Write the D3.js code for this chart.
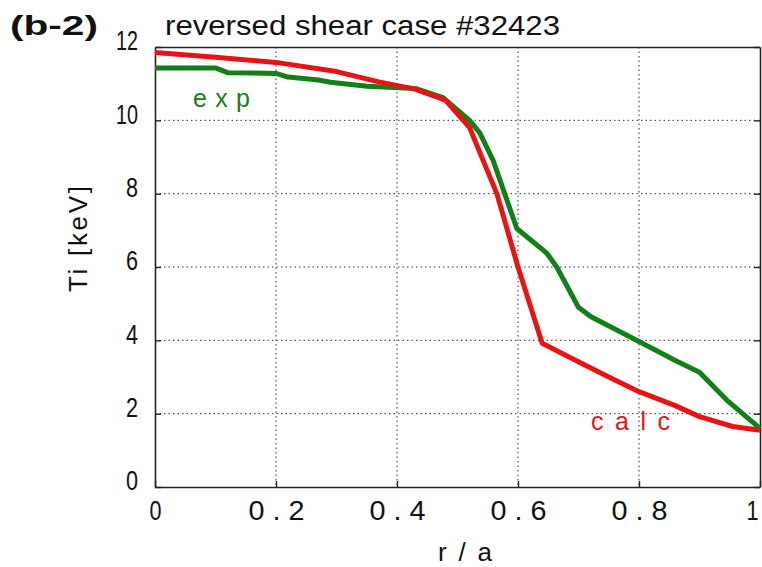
<!DOCTYPE html>
<html>
<head>
<meta charset="utf-8">
<script src="https://cdn.jsdelivr.net/npm/d3@7"></script>
<style>
  html, body { margin: 0; padding: 0; background: #fff; }
  svg { display: block; }
</style>
</head>
<body>
<svg id="chart" width="762" height="567"></svg>
<script>
// Ion temperature profiles, reversed shear discharge #32423
const calcR  = [0, 0.1, 0.2, 0.3, 0.37, 0.43, 0.48, 0.52, 0.565, 0.6, 0.64, 0.69, 0.75, 0.8, 0.86, 0.9, 0.955, 1.0];
const calcTi = [11.85, 11.72, 11.58, 11.33, 11.05, 10.85, 10.55, 9.8, 8.0, 6.0, 3.92, 3.5, 3.0, 2.6, 2.22, 1.92, 1.65, 1.55];

const expR  = [0, 0.1, 0.12, 0.2, 0.22, 0.27, 0.29, 0.35, 0.43, 0.476, 0.52, 0.537, 0.559, 0.598, 0.648, 0.664, 0.70, 0.72, 0.8, 0.86, 0.9, 0.945, 1.0];
const expTi = [11.43, 11.43, 11.3, 11.28, 11.18, 11.1, 11.04, 10.93, 10.87, 10.62, 10.0, 9.65, 8.9, 7.05, 6.37, 6.0, 4.9, 4.65, 3.97, 3.45, 3.13, 2.37, 1.6];

const xTicks = [0, 0.2, 0.4, 0.6, 0.8, 1];
const yTicks = [0, 2, 4, 6, 8, 10, 12];

const svg = d3.select("#chart");
const plotL = 155, plotR = 760, plotT = 47, plotB = 487;

const x = d3.scaleLinear().domain([0, 1]).range([plotL, plotR]);
const y = d3.scaleLinear().domain([0, 12]).range([plotB, plotT]);

const sans = "'Liberation Sans', Arial, sans-serif";

// dotted grid
const grid = svg.append("g").attr("stroke", "#333").attr("stroke-width", 1)
  .attr("stroke-dasharray", "1.5,3");
grid.selectAll(".gx").data(xTicks.slice(1, -1)).join("line")
  .attr("x1", d => x(d)).attr("x2", d => x(d))
  .attr("y1", plotT).attr("y2", plotB);
grid.selectAll(".gy").data(yTicks.slice(1, -1)).join("line")
  .attr("x1", plotL).attr("x2", plotR)
  .attr("y1", d => y(d)).attr("y2", d => y(d));

// axes with inward ticks
const fmtX = d => d === 0 ? "0" : d === 1 ? "1" : String(d).split("").join(" ");
const xAxis = svg.append("g").attr("transform", `translate(0,${plotB})`)
  .call(d3.axisBottom(x).tickValues(xTicks).tickFormat(fmtX).tickSizeInner(-6).tickSizeOuter(0).tickPadding(13));
const yAxis = svg.append("g").attr("transform", `translate(${plotL},0)`)
  .call(d3.axisLeft(y).tickValues(yTicks).tickFormat(d => String(d)).tickSizeInner(-6).tickSizeOuter(0).tickPadding(17));
const yAxisR = svg.append("g").attr("transform", `translate(${plotR},0)`)
  .call(d3.axisRight(y).tickValues(yTicks).tickFormat("").tickSizeInner(-6).tickSizeOuter(0));
const xAxisT = svg.append("g").attr("transform", `translate(0,${plotT})`)
  .call(d3.axisTop(x).tickValues([]).tickSizeOuter(0));

[xAxis, yAxis, yAxisR, xAxisT].forEach(g => {
  g.select(".domain").attr("stroke", "#222").attr("stroke-width", 1.6);
  g.selectAll(".tick line").attr("stroke", "#222").attr("stroke-width", 1.4);
  g.selectAll("text").attr("font-family", sans).attr("font-size", 28).attr("fill", "#111");
});
// narrow, tall numerals
xAxis.selectAll("text").attr("dy", "0.71em")
  .attr("textLength", d => (d === 0 || d === 1) ? 12 : 56)
  .attr("lengthAdjust", "spacingAndGlyphs");
xAxis.selectAll(".tick").filter(d => d === 1).select("text")
  .attr("text-anchor", "end").attr("x", -2);
yAxis.selectAll("text").attr("dy", "0.1em")
  .attr("textLength", d => d >= 10 ? 22 : 12)
  .attr("lengthAdjust", "spacingAndGlyphs");

// profiles
const line = d3.line().x(d => x(d[0])).y(d => y(d[1]));
const calcPts = calcR.map((r, i) => [r, calcTi[i]]);
const expPts = expR.map((r, i) => [r, expTi[i]]);

svg.append("path").datum(expPts).attr("d", line)
  .attr("fill", "none").attr("stroke", "#137f17").attr("stroke-width", 5)
  .attr("stroke-linejoin", "round");
svg.append("path").datum(calcPts).attr("d", line)
  .attr("fill", "none").attr("stroke", "#e81414").attr("stroke-width", 5)
  .attr("stroke-linejoin", "round");

// series labels
svg.append("text").attr("x", 193).attr("y", 107).text("exp")
  .attr("font-family", sans).attr("font-size", 25)
  .attr("textLength", 57).attr("lengthAdjust", "spacing")
  .attr("fill", "#137f17");
svg.append("text").attr("x", 591).attr("y", 430).text("calc")
  .attr("font-family", sans).attr("font-size", 25)
  .attr("textLength", 79).attr("lengthAdjust", "spacing")
  .attr("fill", "#e81414");

// titles
svg.append("text").attr("x", 165).attr("y", 35).text("reversed shear case #32423")
  .attr("font-family", sans).attr("font-size", 27)
  .attr("textLength", 395).attr("lengthAdjust", "spacingAndGlyphs").attr("fill", "#111");
svg.append("text").attr("x", 10).attr("y", 35).text("(b-2)")
  .attr("font-family", sans).attr("font-size", 27).attr("font-weight", "bold")
  .attr("textLength", 88).attr("lengthAdjust", "spacingAndGlyphs").attr("fill", "#111");

svg.append("text").attr("x", 438).attr("y", 561).text("r / a")
  .attr("font-family", sans).attr("font-size", 26)
  .attr("textLength", 54).attr("lengthAdjust", "spacing").attr("fill", "#111");
svg.append("text").attr("transform", "translate(78,292) rotate(-90)").attr("dy", "0.36em")
  .text("Ti [keV]").attr("font-family", sans).attr("font-size", 26)
  .attr("textLength", 106).attr("lengthAdjust", "spacing").attr("fill", "#111");
</script>
</body>
</html>
